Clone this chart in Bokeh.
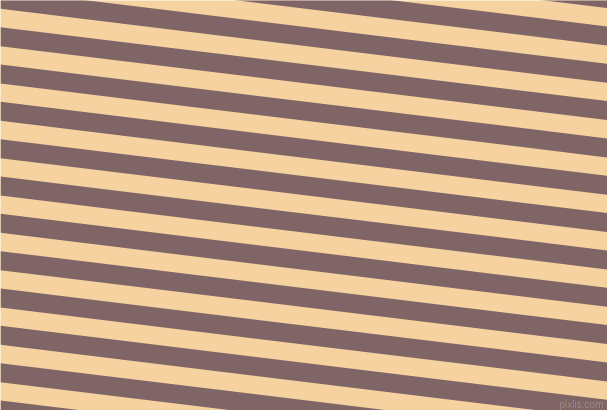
import math
from bokeh.plotting import figure
from bokeh.models import Range1d, ColumnDataSource
from bokeh.core.properties import value
from bokeh.embed import file_html
from bokeh.resources import INLINE

# ---- data ----
stripe_colors = ["#7f6566", "#f5d2a0"]      # brown band, tan band
stripe_angle_deg = [6.95]                     # tilt, falling to the right
band_heights = [19.0, 18.33]                  # vertical thickness of brown / tan band
first_brown_top = [26.67]                     # brown band top edge at left border
watermark = ["pixlis.com"]

W, H = 607, 410
slope = math.tan(math.radians(stripe_angle_deg[0]))
period = band_heights[0] + band_heights[1]

xs, ys = [], []
k0 = -int((W * slope + period) // period) - 2
k1 = int(H // period) + 2
for k in range(k0, k1 + 1):
    c = first_brown_top[0] + k * period
    xs.append([0, W, W, 0])
    ys.append([c, c + W * slope, c + band_heights[0] + W * slope, c + band_heights[0]])

src = ColumnDataSource(dict(xs=xs, ys=ys))

p = figure(width=W, height=H, output_backend="svg", toolbar_location=None,
           x_range=Range1d(0, W), y_range=Range1d(H, 0),
           min_border=0, background_fill_color=stripe_colors[1],
           border_fill_color=stripe_colors[1])
p.axis.visible = False
p.grid.visible = False
p.outline_line_color = None

p.patches("xs", "ys", source=src, fill_color=stripe_colors[0], line_color=None)

# watermark: faint shadow + light text
p.text(x=[W - 3.5], y=[404], text=watermark, text_align="right",
       text_baseline="alphabetic", text_font=value("Liberation Sans"),
       text_font_size="10px", text_color="#3a2a2a", text_alpha=0.35)
p.text(x=[W - 4], y=[403.5], text=watermark, text_align="right",
       text_baseline="alphabetic", text_font=value("Liberation Sans"),
       text_font_size="10px", text_color="white", text_alpha=0.32)

open("out.html", "w").write(file_html(p, INLINE))
